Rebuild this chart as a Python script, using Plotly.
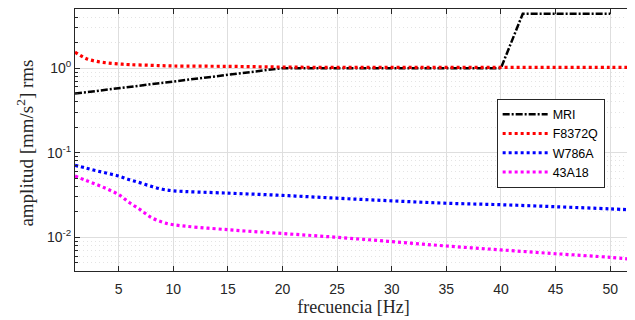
import plotly.graph_objects as go

# ---- data ----
mri_f = [1, 20, 40, 42, 50]
mri_a = [0.5, 1.0, 1.0, 4.4, 4.4]

f8_f = [1, 2, 3, 4, 5, 6, 8, 10, 15, 20, 25, 30, 35, 40, 45, 50, 52]
f8_a = [1.55, 1.30, 1.20, 1.15, 1.12, 1.10, 1.08, 1.06, 1.05, 1.03, 1.02, 1.02, 1.02, 1.02, 1.02, 1.02, 1.02]

w7_f = [1, 2, 3, 4, 5, 6, 7, 8, 9, 10, 15, 20, 25, 30, 35, 40, 45, 50, 52]
w7_a = [0.071, 0.066, 0.061, 0.057, 0.053, 0.048, 0.044, 0.040, 0.037, 0.0355,
        0.0333, 0.0313, 0.029, 0.027, 0.0253, 0.0243, 0.023, 0.0217, 0.0211]

a43_f = [1, 2, 3, 4, 5, 6, 7, 8, 9, 10, 15, 20, 25, 30, 35, 40, 45, 50, 52]
a43_a = [0.053, 0.047, 0.042, 0.037, 0.032, 0.0256, 0.0211, 0.0171, 0.0151, 0.0141,
         0.0123, 0.0111, 0.0100, 0.0089, 0.0079, 0.0071, 0.0064, 0.0058, 0.0055]

y_major = [0.01, 0.1, 1]
y_major_text = ["10<sup>-2</sup>", "10<sup>-1</sup>", "10<sup>0</sup>"]
y_minor = [0.004, 0.005, 0.006, 0.007, 0.008, 0.009,
           0.02, 0.03, 0.04, 0.05, 0.06, 0.07, 0.08, 0.09,
           0.2, 0.3, 0.4, 0.5, 0.6, 0.7, 0.8, 0.9,
           2, 3, 4, 5]

AX = "#262626"
GRID = "#dedede"
TICKFONT = dict(family="Liberation Sans, Arial, sans-serif", size=14, color=AX)
SERIF_X = dict(family="Liberation Serif, Times New Roman, serif", size=18, color=AX)
SERIF_Y = dict(family="Liberation Serif, Times New Roman, serif", size=19, color=AX)

fig = go.Figure()
fig.add_trace(go.Scatter(x=mri_f, y=mri_a, mode="lines", name="MRI",
                         line=dict(color="black", width=2.5, dash="7px,2px,2px,2px")))
fig.add_trace(go.Scatter(x=f8_f, y=f8_a, mode="lines", name="F8372Q", line_shape="spline",
                         line=dict(color="#ff0000", width=3.2, dash="3px,3px")))
fig.add_trace(go.Scatter(x=w7_f, y=w7_a, mode="lines", name="W786A", line_shape="spline",
                         line=dict(color="#0000ff", width=3.2, dash="3px,3px")))
fig.add_trace(go.Scatter(x=a43_f, y=a43_a, mode="lines", name="43A18", line_shape="spline",
                         line=dict(color="#ff00ff", width=3.2, dash="3px,3px")))

# page body has an 8px default margin; figure is sized/margined to compensate
fig.update_layout(
    width=627, height=312,
    margin=dict(l=67, r=3, t=1, b=49),
    plot_bgcolor="white", paper_bgcolor="white",
    showlegend=True,
    legend=dict(x=0.757, y=0.658, xanchor="left", yanchor="top",
                bgcolor="white", bordercolor=AX, borderwidth=1,
                font=dict(family="Liberation Sans, Arial, sans-serif", size=12.5, color="black"),
                itemwidth=45, tracegroupgap=0),
    xaxis=dict(range=[1, 52], tick0=0, dtick=5, showgrid=True, gridcolor=GRID, gridwidth=1,
               showline=True, linecolor=AX, linewidth=1, mirror="allticks", automargin=False,
               ticks="inside", ticklen=5, tickcolor=AX, tickfont=TICKFONT, zeroline=False,
               ticklabelstandoff=5,
               title=dict(text="frecuencia [Hz]", font=SERIF_X, standoff=3)),
    yaxis=dict(type="log", range=[-2.39794, 0.69897], automargin=False,
               tickvals=y_major, ticktext=y_major_text,
               showgrid=True, gridcolor=GRID, gridwidth=1,
               showline=True, linecolor=AX, linewidth=1, mirror="allticks",
               ticks="inside", ticklen=5, tickcolor=AX, tickfont=TICKFONT, zeroline=False,
               minor=dict(tickvals=y_minor, ticks="inside", ticklen=3, tickcolor=AX,
                          showgrid=True, gridcolor="#e4e4e4", griddash="1px,3px", gridwidth=1)),
    annotations=[dict(text="amplitud [mm/s<sup>2</sup>] rms", textangle=-90,
                      xref="paper", yref="paper", x=-0.0898, y=0.49,
                      xanchor="center", yanchor="middle", showarrow=False, font=SERIF_Y)],
)

fig.write_html("out.html")
